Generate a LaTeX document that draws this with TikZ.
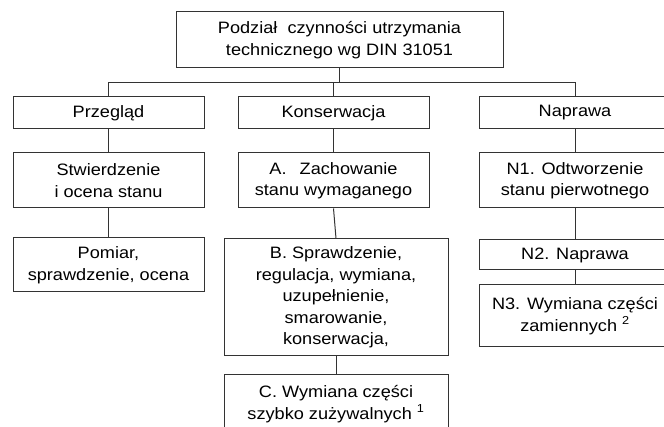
\documentclass[tikz,border=0pt]{standalone}
\usepackage{fontspec}
\setmainfont{Liberation Sans}[FakeStretch=1.1]
\begin{document}
\begin{tikzpicture}[x=1pt,y=-1pt,
  box/.style={draw=black!80, line width=1pt, inner sep=0pt, align=center,
    font=\fontsize{16.5}{21.5}\selectfont},
  link/.style={draw=black!80, line width=1pt}]
\useasboundingbox (0,0) rectangle (664,427);
\coordinate (bus) at (0,83);
\node[box, minimum width=327, minimum height=56] (top) at (339.5,40) {Podział\ \ czynności utrzymania\\technicznego wg DIN 31051};
\node[box, minimum width=191, minimum height=32] (prz) at (108.5,113) {Przegląd};
\node[box, minimum width=191, minimum height=32] (kon) at (333.5,113) {Konserwacja};
\node[box, minimum width=192, minimum height=32] (nap) at (575,113) {Naprawa};
\node[box, minimum width=191, minimum height=55] (stw) at (108.5,180.5) {Stwierdzenie\\i ocena stanu};
\node[box, minimum width=191, minimum height=55] (A) at (333.5,180.5) {A.\hspace{0.8em}Zachowanie\\stanu wymaganego};
\node[box, minimum width=192, minimum height=55] (N1) at (575,180.5) {N1. Odtworzenie\\stanu pierwotnego};
\node[box, minimum width=191, minimum height=54] (pom) at (108.5,265) {Pomiar,\\sprawdzenie, ocena};
\node[box, minimum width=224, minimum height=117] (B) at (336,297.5) {B. Sprawdzenie,\\regulacja, wymiana,\\uzupełnienie,\\smarowanie,\\konserwacja,};
\node[box, minimum width=224, minimum height=58] (C) at (336,404) {C. Wymiana części\\szybko zużywalnych \textsuperscript{1}};
\node[box, minimum width=192, minimum height=30] (N2) at (575,255) {N2. Naprawa};
\node[box, minimum width=192, minimum height=62] (N3) at (575,316) {N3. Wymiana części\\zamiennych \textsuperscript{2}};
\draw[link] (top.south) -- (top.south |- bus);
\draw[link] (prz.north) -- (prz.north |- bus) -- (nap.north |- bus) -- (nap.north);
\draw[link] (kon.north) -- (kon.north |- bus);
\draw[link] (prz.south) -- (stw.north);
\draw[link] (kon.south) -- (A.north);
\draw[link] (nap.south) -- (N1.north);
\draw[link] (stw.south) -- (pom.north);
\draw[link] (A.south) -- (B.north);
\draw[link] (B.south) -- (C.north);
\draw[link] (N1.south) -- (N2.north);
\draw[link] (N2.south) -- (N3.north);
\end{tikzpicture}
\end{document}
